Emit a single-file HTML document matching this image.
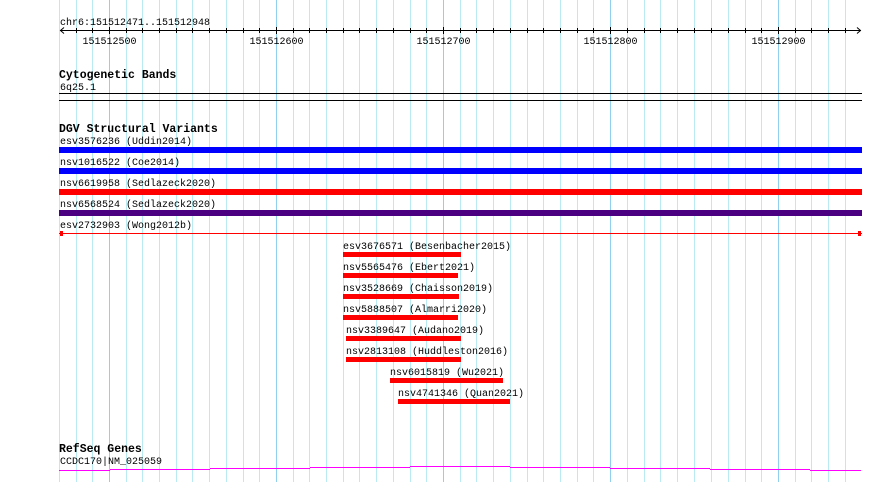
<!DOCTYPE html>
<html><head><meta charset="utf-8"><style>
html,body{margin:0;padding:0;background:#fff;}
svg{display:block;}
text{font-family:"Liberation Mono","DejaVu Sans Mono",monospace;font-size:10px;fill:#000;}
.b{font-weight:bold;font-size:11.5px;}
</style></head><body>
<svg width="890" height="482" xmlns="http://www.w3.org/2000/svg">
<g id="grid" stroke-width="1">
<line x1="59.5" y1="0" x2="59.5" y2="482" stroke="#b8ecf2"/>
<line x1="76.5" y1="0" x2="76.5" y2="482" stroke="#b8ecf2"/>
<line x1="92.5" y1="0" x2="92.5" y2="482" stroke="#b8ecf2"/>
<line x1="109.5" y1="0" x2="109.5" y2="482" stroke="#8fd0ee"/>
<line x1="126.5" y1="0" x2="126.5" y2="482" stroke="#b8ecf2"/>
<line x1="142.5" y1="0" x2="142.5" y2="482" stroke="#b8ecf2"/>
<line x1="159.5" y1="0" x2="159.5" y2="482" stroke="#b8ecf2"/>
<line x1="176.5" y1="0" x2="176.5" y2="482" stroke="#b8ecf2"/>
<line x1="192.5" y1="0" x2="192.5" y2="482" stroke="#b8ecf2"/>
<line x1="209.5" y1="0" x2="209.5" y2="482" stroke="#b8ecf2"/>
<line x1="226.5" y1="0" x2="226.5" y2="482" stroke="#b8ecf2"/>
<line x1="243.5" y1="0" x2="243.5" y2="482" stroke="#b8ecf2"/>
<line x1="259.5" y1="0" x2="259.5" y2="482" stroke="#b8ecf2"/>
<line x1="276.5" y1="0" x2="276.5" y2="482" stroke="#8fd0ee"/>
<line x1="293.5" y1="0" x2="293.5" y2="482" stroke="#b8ecf2"/>
<line x1="309.5" y1="0" x2="309.5" y2="482" stroke="#b8ecf2"/>
<line x1="326.5" y1="0" x2="326.5" y2="482" stroke="#b8ecf2"/>
<line x1="343.5" y1="0" x2="343.5" y2="482" stroke="#b8ecf2"/>
<line x1="359.5" y1="0" x2="359.5" y2="482" stroke="#b8ecf2"/>
<line x1="376.5" y1="0" x2="376.5" y2="482" stroke="#b8ecf2"/>
<line x1="393.5" y1="0" x2="393.5" y2="482" stroke="#b8ecf2"/>
<line x1="410.5" y1="0" x2="410.5" y2="482" stroke="#b8ecf2"/>
<line x1="426.5" y1="0" x2="426.5" y2="482" stroke="#b8ecf2"/>
<line x1="443.5" y1="0" x2="443.5" y2="482" stroke="#8fd0ee"/>
<line x1="460.5" y1="0" x2="460.5" y2="482" stroke="#b8ecf2"/>
<line x1="476.5" y1="0" x2="476.5" y2="482" stroke="#b8ecf2"/>
<line x1="493.5" y1="0" x2="493.5" y2="482" stroke="#b8ecf2"/>
<line x1="510.5" y1="0" x2="510.5" y2="482" stroke="#b8ecf2"/>
<line x1="527.5" y1="0" x2="527.5" y2="482" stroke="#b8ecf2"/>
<line x1="543.5" y1="0" x2="543.5" y2="482" stroke="#b8ecf2"/>
<line x1="560.5" y1="0" x2="560.5" y2="482" stroke="#b8ecf2"/>
<line x1="577.5" y1="0" x2="577.5" y2="482" stroke="#b8ecf2"/>
<line x1="593.5" y1="0" x2="593.5" y2="482" stroke="#b8ecf2"/>
<line x1="610.5" y1="0" x2="610.5" y2="482" stroke="#8fd0ee"/>
<line x1="627.5" y1="0" x2="627.5" y2="482" stroke="#b8ecf2"/>
<line x1="644.5" y1="0" x2="644.5" y2="482" stroke="#b8ecf2"/>
<line x1="660.5" y1="0" x2="660.5" y2="482" stroke="#b8ecf2"/>
<line x1="677.5" y1="0" x2="677.5" y2="482" stroke="#b8ecf2"/>
<line x1="694.5" y1="0" x2="694.5" y2="482" stroke="#b8ecf2"/>
<line x1="711.5" y1="0" x2="711.5" y2="482" stroke="#b8ecf2"/>
<line x1="728.5" y1="0" x2="728.5" y2="482" stroke="#b8ecf2"/>
<line x1="745.5" y1="0" x2="745.5" y2="482" stroke="#b8ecf2"/>
<line x1="761.5" y1="0" x2="761.5" y2="482" stroke="#b8ecf2"/>
<line x1="778.5" y1="0" x2="778.5" y2="482" stroke="#8fd0ee"/>
<line x1="795.5" y1="0" x2="795.5" y2="482" stroke="#b8ecf2"/>
<line x1="811.5" y1="0" x2="811.5" y2="482" stroke="#b8ecf2"/>
<line x1="828.5" y1="0" x2="828.5" y2="482" stroke="#b8ecf2"/>
<line x1="845.5" y1="0" x2="845.5" y2="482" stroke="#b8ecf2"/>
</g>
<!-- ruler -->
<text x="60" y="25">chr6:151512471..151512948</text>
<line x1="60" y1="30.5" x2="861" y2="30.5" stroke="#000"/>
<path d="M64 27.5 L60.5 30.5 L64 33.5 M857 27.5 L860.5 30.5 L857 33.5" stroke="#000" fill="none"/>
<g stroke="#000">
<path d="M76.5 28v5M92.5 28v5M109.5 27v7M126.5 28v5M142.5 28v5M159.5 28v5M176.5 28v5M192.5 28v5M209.5 28v5M226.5 28v5M243.5 28v5M259.5 28v5M276.5 27v7M293.5 28v5M309.5 28v5M326.5 28v5M343.5 28v5M359.5 28v5M376.5 28v5M393.5 28v5M410.5 28v5M426.5 28v5M443.5 27v7M460.5 28v5M476.5 28v5M493.5 28v5M510.5 28v5M527.5 28v5M543.5 28v5M560.5 28v5M577.5 28v5M593.5 28v5M610.5 27v7M627.5 28v5M644.5 28v5M660.5 28v5M677.5 28v5M694.5 28v5M711.5 28v5M728.5 28v5M745.5 28v5M761.5 28v5M778.5 27v7M795.5 28v5M811.5 28v5M828.5 28v5M845.5 28v5"/>
</g>
<text x="109.5" y="44" text-anchor="middle">151512500</text>
<text x="276.5" y="44" text-anchor="middle">151512600</text>
<text x="443.5" y="44" text-anchor="middle">151512700</text>
<text x="610.5" y="44" text-anchor="middle">151512800</text>
<text x="778.5" y="44" text-anchor="middle">151512900</text>
<!-- cytobands -->
<text class="b" x="59" y="78">Cytogenetic Bands</text>
<text x="60" y="90">6q25.1</text>
<rect x="59" y="93" width="803" height="1" fill="#000"/>
<rect x="59" y="100" width="803" height="1" fill="#000"/>
<!-- DGV -->
<text class="b" x="59" y="132">DGV Structural Variants</text>
<text x="60" y="144">esv3576236 (Uddin2014)</text>
<rect x="59" y="147" width="803" height="6" fill="#0000ff"/>
<text x="60" y="165">nsv1016522 (Coe2014)</text>
<rect x="59" y="168" width="803" height="6" fill="#0000ff"/>
<text x="60" y="186">nsv6619958 (Sedlazeck2020)</text>
<rect x="59" y="189" width="803" height="6" fill="#ff0000"/>
<text x="60" y="207">nsv6568524 (Sedlazeck2020)</text>
<rect x="59" y="210" width="803" height="6" fill="#4b0082"/>
<text x="60" y="228">esv2732903 (Wong2012b)</text>
<rect x="59" y="233" width="803" height="1" fill="#ff0000"/>
<rect x="60" y="231" width="3" height="5" fill="#ff0000"/>
<rect x="858" y="231" width="3" height="5" fill="#ff0000"/>
<text x="343" y="249">esv3676571 (Besenbacher2015)</text>
<rect x="343" y="252" width="118" height="5" fill="#ff0000"/>
<text x="343" y="270">nsv5565476 (Ebert2021)</text>
<rect x="343" y="273" width="115" height="5" fill="#ff0000"/>
<text x="343" y="291">nsv3528669 (Chaisson2019)</text>
<rect x="343" y="294" width="116" height="5" fill="#ff0000"/>
<text x="343" y="312">nsv5888507 (Almarri2020)</text>
<rect x="343" y="315" width="115" height="5" fill="#ff0000"/>
<text x="346" y="333">nsv3389647 (Audano2019)</text>
<rect x="346" y="336" width="115" height="5" fill="#ff0000"/>
<text x="346" y="354">nsv2813108 (Huddleston2016)</text>
<rect x="346" y="357" width="115" height="5" fill="#ff0000"/>
<text x="390" y="375">nsv6015819 (Wu2021)</text>
<rect x="390" y="378" width="113" height="5" fill="#ff0000"/>
<text x="398" y="396">nsv4741346 (Quan2021)</text>
<rect x="398" y="399" width="112" height="5" fill="#ff0000"/>
<!-- RefSeq -->
<text class="b" x="59" y="452">RefSeq Genes</text>
<text x="60" y="464">CCDC170|NM_025059</text>
<g fill="#ff00ff">
<rect x="59" y="470" width="51" height="1"/>
<rect x="110" y="469" width="100" height="1"/>
<rect x="210" y="468" width="100" height="1"/>
<rect x="310" y="467" width="100" height="1"/>
<rect x="410" y="466" width="100" height="1"/>
<rect x="510" y="467" width="100" height="1"/>
<rect x="610" y="468" width="100" height="1"/>
<rect x="710" y="469" width="100" height="1"/>
<rect x="810" y="470" width="51" height="1"/>
</g>
</svg>
</body></html>
